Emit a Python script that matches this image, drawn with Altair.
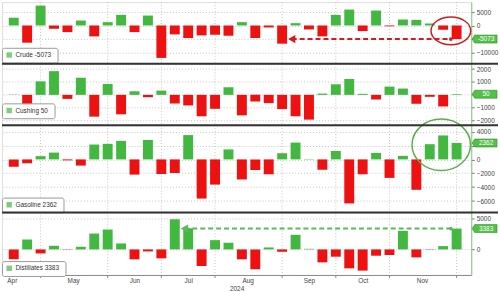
import altair as alt
import pandas as pd

# ---------------- data ----------------
dates = ["2024-04-12", "2024-04-19", "2024-04-26", "2024-05-03", "2024-05-10", "2024-05-17",
         "2024-05-24", "2024-05-31", "2024-06-07", "2024-06-14", "2024-06-21", "2024-06-28",
         "2024-07-05", "2024-07-12", "2024-07-19", "2024-07-26", "2024-08-02", "2024-08-09",
         "2024-08-16", "2024-08-23", "2024-08-30", "2024-09-06", "2024-09-13", "2024-09-20",
         "2024-09-27", "2024-10-04", "2024-10-11", "2024-10-18", "2024-10-25", "2024-11-01",
         "2024-11-08", "2024-11-15", "2024-11-22", "2024-11-29"]

crude = [2840, -6420, 7410, -1240, -2470, 1850, -4080, 1240, 3950, -2470, 3700, -12100,
         -3330, -4690, -3700, -3460, -3830, 1240, -4690, -740, -6790, 860, -1480, -4080,
         3950, 5930, -2100, 5560, -300, 2220, 2100, 740, -1600, -5073]

cushing = [30, -720, 1050, 1840, -310, 1330, -1690, 850, -1510, 280, -180, 330,
           -670, -820, -1660, -1080, 590, -1590, -510, -640, -1100, -1660, -1920, 100,
           820, 1230, 80, -360, 640, 490, -690, -150, -900, 50]

gasoline = [-1070, -560, 470, 980, -140, -890, 2140, 2240, 2660, -2190, 2800, -2100,
            -1960, 3500, -5640, -3630, 1440, -2890, -1540, -2140, 890, 2420, 50, -1490,
            1210, -6340, -2140, 930, -2660, 510, -4380, 2190, 3450, 2362]

distillates = [-1610, 1610, -650, 590, -50, 430, 2580, 3230, 970, -1610, -320, -1450,
               4900, 3440, -2690, 1510, 1080, -1610, -3230, 320, -380, 2370, 100, -2100,
               -1180, -3070, -3440, -1020, -910, 3010, -1290, -50, 540, 3383]

# month boundary ticks (last weekly print of each month) and month label positions
month_ends = ["2024-04-26", "2024-05-31", "2024-06-28", "2024-07-26",
              "2024-08-30", "2024-09-27", "2024-10-25", "2024-11-29"]
month_label_days = [(4, 11), (5, 13), (6, 14), (7, 12), (8, 12), (9, 13), (10, 11), (11, 11)]

# annotation anchors
crude_arrow_dates = ["2024-09-04", "2024-11-26"]
dist_arrow_dates = ["2024-07-10", "2024-11-26"]
crude_ellipse = ("2024-11-26", -2000)
gas_ellipse = ("2024-11-21", 2100)

# ---------------- styling ----------------
GREEN = "#43b841"
RED = "#ee1111"
TAG_GREEN = "#55c047"
GRID = "#c4c4c4"
AXIS_GREEN = "#8cc68c"
LABEL = "#444444"
FS = 6.5

TAG_PATH = "M -1 0 L -0.8 -0.32 L 1 -0.32 L 1 0.32 L -0.8 0.32 Z"


def ellipse_path(ry):
    k = 0.5523
    return (f"M 1 0 C 1 {k*ry:.3f} {k:.3f} {ry} 0 {ry} C {-k:.3f} {ry} -1 {k*ry:.3f} -1 0 "
            f"C -1 {-k*ry:.3f} {-k:.3f} {-ry} 0 {-ry} C {k:.3f} {-ry} 1 {-k*ry:.3f} 1 0 Z")


xscale = alt.Scale(
    type="utc",
    domain=[alt.DateTime(year=2024, month=4, date=8, hours=11, utc=True),
            alt.DateTime(year=2024, month=12, date=4, hours=1, utc=True)])


def panel(name, vals, dom, tick_vals, hidden, h, leg_y, bottom=False, sep=True, extra=None):
    yscale = alt.Scale(domain=dom, nice=False)
    df = pd.DataFrame({"date": dates, "v": vals})
    last = vals[-1]
    if hidden is None:
        lexpr = "datum.label"
    else:
        lexpr = f"datum.value == {hidden} ? '' : datum.label"
    yaxis = alt.Axis(orient="right", values=tick_vals, format="d", labelExpr=lexpr,
                     labelFontSize=FS, labelColor=LABEL, labelPadding=2, tickSize=3,
                     tickColor="#777", domainColor=AXIS_GREEN, grid=True, gridColor=GRID,
                     gridDash=[1, 2], title=None, labelFlush=False)
    if bottom:
        xaxis = alt.Axis(values=[alt.DateTime(year=2024, month=m, date=d, utc=True)
                                 for m, d in month_label_days],
                         format="%b", labelFontSize=FS, labelColor=LABEL, ticks=False,
                         grid=False, domainColor="#888", labelPadding=3, title="2024",
                         titleFontSize=FS, titleFontWeight="normal", titleColor=LABEL,
                         titlePadding=1, labelFlush=False)
    else:
        xaxis = None

    X = lambda: alt.X("date:T", scale=xscale, axis=xaxis)
    Y = lambda: alt.Y("v:Q", scale=yscale, axis=yaxis)

    vgrid = alt.Chart(pd.DataFrame({"date": month_ends})).mark_rule(
        color=GRID, strokeDash=[1, 2], strokeWidth=1).encode(x=X())

    bars = alt.Chart(df).mark_bar(width=10).encode(
        x=X(), y=Y(), y2=alt.datum(0),
        color=alt.condition("datum.v >= 0", alt.value(GREEN), alt.value(RED)))

    layers = [vgrid, bars]

    if extra:
        layers += extra(X, Y)

    tag_df = pd.DataFrame({"v": [last], "t": [str(last)]})
    tag = alt.Chart(tag_df).mark_point(shape=TAG_PATH, size=625, filled=True, fill=TAG_GREEN,
                                       stroke="#2e8a2e", strokeWidth=0.6, opacity=1).encode(
        x=alt.value(486.5), y=Y())
    tag_txt = alt.Chart(tag_df).mark_text(fontSize=FS, color="white", align="center",
                                          baseline="middle").encode(
        x=alt.value(488), y=Y(), text="t:N")
    layers += [tag, tag_txt]

    leg_df = pd.DataFrame({"lab": [f"{name}  {last}"]})
    leg = alt.Chart(leg_df).mark_square(size=0).encode(
        color=alt.Color("lab:N", scale=alt.Scale(range=[GREEN]),
                        legend=alt.Legend(title=None, orient="none", legendX=0, legendY=leg_y,
                                          fillColor="white", strokeColor="#999", cornerRadius=2,
                                          padding=4, labelFontSize=FS, labelColor="#333",
                                          symbolType="square", symbolSize=30,
                                          symbolStrokeWidth=0, labelLimit=200, labelOffset=3)))
    layers.append(leg)

    if bottom:
        ticks = alt.Chart(pd.DataFrame({"date": month_ends})).mark_rule(color="#888").encode(
            x=X(), y=alt.value(h), y2=alt.value(h + 3))
        layers.append(ticks)

    if sep:
        rule = alt.Chart(pd.DataFrame({"a": [0]})).mark_rule(color="#333", strokeWidth=2).encode(
            x=alt.value(0), x2=alt.value(500), y=alt.value(0))
        layers.append(rule)

    return alt.layer(*layers).properties(width=473, height=h)


def crude_extra(X, Y):
    line = alt.Chart(pd.DataFrame({"date": crude_arrow_dates, "v": [crude[-1]] * 2})).mark_line(
        color="#d41c1c", strokeWidth=2, strokeDash=[5, 3]).encode(x=X(), y=Y())
    head = alt.Chart(pd.DataFrame({"date": crude_arrow_dates[:1], "v": [crude[-1]]})).mark_point(
        shape="triangle-left", filled=True, size=70, color="#d41c1c", opacity=1).encode(x=X(), y=Y())
    dot = alt.Chart(pd.DataFrame({"date": crude_arrow_dates[1:], "v": [crude[-1]]})).mark_point(
        shape="circle", filled=True, size=14, color="#d41c1c", opacity=1).encode(x=X(), y=Y())
    ell = alt.Chart(pd.DataFrame({"date": [crude_ellipse[0]], "v": [crude_ellipse[1]]})).mark_point(
        shape=ellipse_path(0.7), size=1600, filled=False, color="#c81e1e", strokeWidth=1.5,
        opacity=1).encode(x=X(), y=Y())
    return [line, head, dot, ell]


def gas_extra(X, Y):
    ell = alt.Chart(pd.DataFrame({"date": [gas_ellipse[0]], "v": [gas_ellipse[1]]})).mark_point(
        shape=ellipse_path(0.88), size=3481, filled=False, color="#5aae4a", strokeWidth=1.5,
        opacity=1).encode(x=X(), y=Y())
    return [ell]


def dist_extra(X, Y):
    line = alt.Chart(pd.DataFrame({"date": dist_arrow_dates, "v": [distillates[-1]] * 2})).mark_line(
        color="#5cb85c", strokeWidth=2, strokeDash=[5, 3]).encode(x=X(), y=Y())
    head = alt.Chart(pd.DataFrame({"date": dist_arrow_dates[:1], "v": [distillates[-1]]})).mark_point(
        shape="triangle-left", filled=True, size=70, color="#5cb85c", opacity=1).encode(x=X(), y=Y())
    dot = alt.Chart(pd.DataFrame({"date": dist_arrow_dates[1:], "v": [distillates[-1]]})).mark_point(
        shape="circle", filled=True, size=14, color="#5cb85c", opacity=1).encode(x=X(), y=Y())
    return [line, head, dot]


p1 = panel("Crude", crude, [-14250, 8700], [5000, 0, -5000, -10000], -5000, 62, 46,
           sep=False, extra=crude_extra)
p2 = panel("Cushing", cushing, [-2350, 2420], [2000, 1000, 0, -1000, -2000], 0, 62, 40)
p3 = panel("Gasoline", gasoline, [-7645, 4930], [4000, 2000, 0, -2000, -4000, -6000], 2000, 88, 73,
           extra=gas_extra)
p4 = panel("Distillates", distillates, [-4150, 6000], [5000, 0], None, 63, 49, bottom=True,
           extra=dist_extra)

chart = alt.vconcat(p1, p2, p3, p4, spacing=0, bounds="flush", padding=0).resolve_scale(
    color="independent", y="independent", x="independent").resolve_legend(
    color="independent").configure_view(stroke=None).configure(font="Liberation Sans")

chart.save("out.html", embed_options={"renderer": "svg", "actions": False})
